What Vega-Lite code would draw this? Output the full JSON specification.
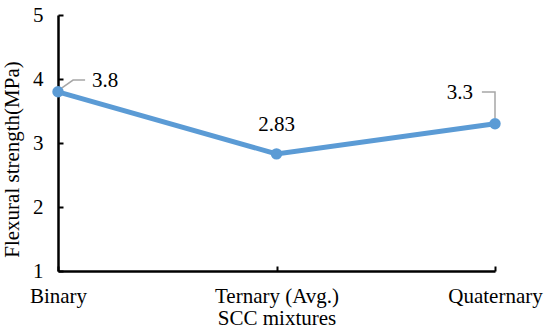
{
  "$schema": "https://vega.github.io/schema/vega-lite/v6.json",
  "width": 437,
  "height": 256,
  "autosize": {"type": "none"},
  "padding": {"left": 58, "top": 15, "right": 55, "bottom": 63},
  "config": {
    "font": "Liberation Serif",
    "view": {"stroke": null},
    "text": {"font": "Liberation Serif"},
    "axis": {"grid": false, "domainColor": "#000000", "domainWidth": 2.5, "tickColor": "#000000", "tickWidth": 2, "labelFont": "Liberation Serif", "titleFont": "Liberation Serif", "labelFontSize": 21, "titleFontSize": 21, "labelColor": "#000000", "titleColor": "#000000", "titleFontWeight": "normal"}
  },
  "datasets": {
    "main": [
      {"idx": 0, "mixture": "Binary", "strength": 3.8, "label": "3.8"},
      {"idx": 1, "mixture": "Ternary (Avg.)", "strength": 2.83, "label": "2.83"},
      {"idx": 2, "mixture": "Quaternary", "strength": 3.3, "label": "3.3"}
    ],
    "leaders": [
      {"leader": "Binary", "ord": 0, "lx": 0.005, "ly": 3.83},
      {"leader": "Binary", "ord": 1, "lx": 0.069, "ly": 3.984},
      {"leader": "Binary", "ord": 2, "lx": 0.124, "ly": 3.984},
      {"leader": "Quaternary", "ord": 0, "lx": 1.94, "ly": 3.797},
      {"leader": "Quaternary", "ord": 1, "lx": 2.0, "ly": 3.797},
      {"leader": "Quaternary", "ord": 2, "lx": 2.0, "ly": 3.39}
    ]
  },
  "layer": [
    {
      "data": {"name": "leaders"},
      "mark": {"type": "line", "stroke": "#A6A6A6", "strokeWidth": 1.5},
      "encoding": {
        "x": {"field": "lx", "type": "quantitative", "scale": {"domain": [0, 2]}},
        "y": {"field": "ly", "type": "quantitative", "scale": {"domain": [1, 5]}},
        "detail": {"field": "leader"},
        "order": {"field": "ord"}
      }
    },
    {
      "data": {"name": "main"},
      "mark": {"type": "line", "stroke": "#5B9BD5", "strokeWidth": 5, "point": {"filled": true, "fill": "#5B9BD5", "size": 130, "opacity": 1}},
      "encoding": {
        "x": {
          "field": "idx", "type": "quantitative",
          "scale": {"domain": [0, 2], "nice": false},
          "axis": {
            "title": "SCC mixtures", "values": [0, 1, 2], "tickSize": -5,
            "labelExpr": "datum.value == 0 ? 'Binary' : datum.value == 1 ? 'Ternary (Avg.)' : 'Quaternary'",
            "labelPadding": 19, "titlePadding": 1, "labelFlush": false
          }
        },
        "y": {
          "field": "strength", "type": "quantitative",
          "scale": {"domain": [1, 5], "nice": false},
          "axis": {
            "title": "Flexural strength(MPa)", "values": [1, 2, 3, 4, 5], "format": "d", "tickSize": -5,
            "labelPadding": 20, "titlePadding": 10, "titleY": 144
          }
        }
      }
    },
    {
      "data": {"name": "main"},
      "transform": [{"filter": "datum.idx == 0"}],
      "mark": {"type": "text", "align": "left", "baseline": "middle", "dx": 34, "dy": -11, "fontSize": 21, "font": "Liberation Serif", "color": "#000000"},
      "encoding": {
        "x": {"field": "idx", "type": "quantitative"},
        "y": {"field": "strength", "type": "quantitative"},
        "text": {"field": "label"}
      }
    },
    {
      "data": {"name": "main"},
      "transform": [{"filter": "datum.idx == 1"}],
      "mark": {"type": "text", "align": "center", "baseline": "middle", "dy": -29, "fontSize": 21, "font": "Liberation Serif", "color": "#000000"},
      "encoding": {
        "x": {"field": "idx", "type": "quantitative"},
        "y": {"field": "strength", "type": "quantitative"},
        "text": {"field": "label"}
      }
    },
    {
      "data": {"name": "main"},
      "transform": [{"filter": "datum.idx == 2"}],
      "mark": {"type": "text", "align": "right", "baseline": "middle", "dx": -22, "dy": -31, "fontSize": 21, "font": "Liberation Serif", "color": "#000000"},
      "encoding": {
        "x": {"field": "idx", "type": "quantitative"},
        "y": {"field": "strength", "type": "quantitative"},
        "text": {"field": "label"}
      }
    }
  ]
}
